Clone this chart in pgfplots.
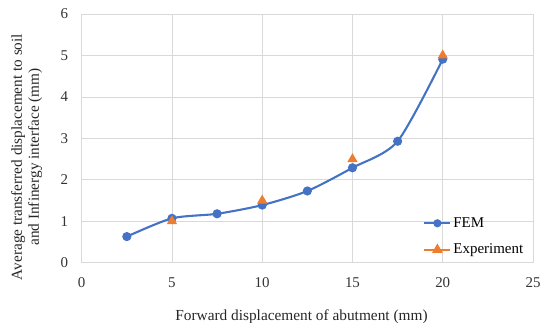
\documentclass[border=0pt]{standalone}
\usepackage{pgfplots}
\pgfplotsset{compat=1.18}
\usepackage{fontspec}
\setmainfont{Liberation Serif}
\definecolor{femblue}{HTML}{4472C4}
\definecolor{exporange}{HTML}{ED7D31}
\definecolor{gridgray}{HTML}{D9D9D9}
\begin{document}
\begin{tikzpicture}[x=1bp,y=1bp]
\path[use as bounding box] (-81.7bp,-60.3bp) rectangle (466.3bp,262.7bp);
\begin{axis}[
  scale only axis,
  width=451.3bp, height=248.7bp,
  xmin=0, xmax=25, ymin=0, ymax=6,
  xtick={0,5,...,25}, ytick={0,1,...,6},
  grid=major,
  major grid style={gridgray, line width=0.8pt},
  axis line style={gridgray, line width=0.8pt},
  tick style={draw=none},
  /pgf/number format/assume math mode=true,
  tick label style={font=\fontsize{15}{17}\selectfont, text=black!80},
  xticklabel style={yshift=-11bp},
  yticklabel style={xshift=-10bp},
  xlabel={Forward displacement of abutment (mm)},
  ylabel={Average transferred displacement to soil\\and Infinergy interface (mm)},
  xlabel style={font=\fontsize{15.4}{18}\selectfont, text=black!85,
    at={(axis description cs:0.487,0)}, anchor=base, yshift=-58bp},
  ylabel style={font=\fontsize{15.3}{17}\selectfont, text=black!85, align=center,
    at={([xshift=-55bp]axis description cs:0,0.425)}, anchor=center},
  legend style={draw=none, fill=none, font=\fontsize{15}{17}\selectfont,
    at={(0.983,0.19)}, anchor=north east, row sep=11bp, inner sep=0pt},
  legend cell align=left,
]
\addplot[femblue, line width=2.1pt, smooth, tension=0.45,
  mark=*, mark size=3.5pt, mark options={fill=femblue, draw=femblue},
  legend image code/.code={
    \draw[femblue, line width=2.1pt] (0bp,0bp) -- (26bp,0bp);
    \fill[femblue] (13bp,0bp) circle (3bp);}]
  coordinates {(2.5,0.63) (5,1.07) (7.5,1.18) (10,1.39) (12.5,1.73) (15,2.29) (17.5,2.93) (20,4.91)};
\addlegendentry{FEM}
\addplot[exporange, line width=1.6pt, only marks,
  mark=triangle*, mark size=4.4pt, mark options={fill=exporange, draw=exporange},
  legend image code/.code={
    \draw[exporange, line width=2.1pt] (0bp,0bp) -- (26bp,0bp);
    \fill[exporange] (9bp,-2.5bp) -- (17bp,-2.5bp) -- (13bp,4.5bp) -- cycle;}]
  coordinates {(5,1.0) (10,1.5) (15,2.5) (20,5.0)};
\addlegendentry{Experiment}
\end{axis}
\end{tikzpicture}
\end{document}
